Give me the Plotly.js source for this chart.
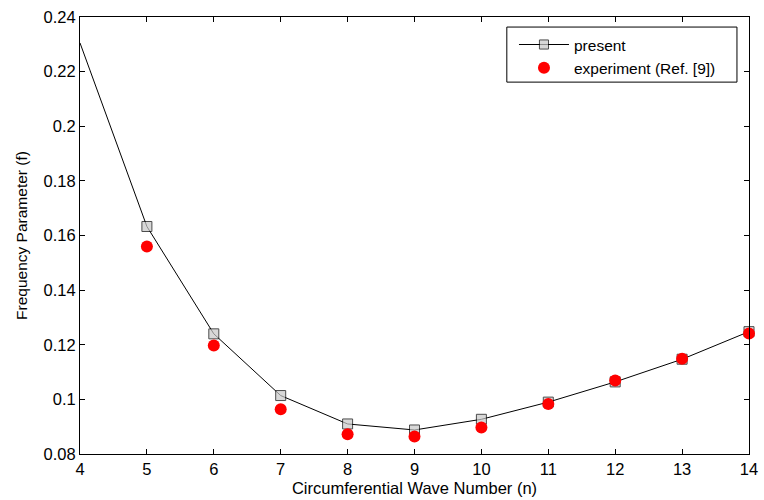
<!DOCTYPE html>
<html>
<head>
<meta charset="utf-8">
<script src="https://cdn.plot.ly/plotly-3.0.1.min.js"></script>
<style>html,body{margin:0;padding:0;background:#fff;}#chart{width:764px;height:500px;}</style>
</head>
<body>
<div id="chart"></div>
<script>
var waveNumbers = [4, 5, 6, 7, 8, 9, 10, 11, 12, 13, 14];
var presentValues = [0.2305, 0.1633, 0.1240, 0.1014, 0.0910, 0.0888, 0.0927, 0.0990, 0.1064, 0.1147, 0.1248];
var expWaveNumbers = [5, 6, 7, 8, 9, 10, 11, 12, 13, 14];
var experimentValues = [0.1560, 0.1197, 0.0964, 0.0872, 0.0864, 0.0897, 0.0983, 0.1069, 0.1149, 0.1241];
var xTicks = [4, 5, 6, 7, 8, 9, 10, 11, 12, 13, 14];
var yTicks = [0.08, 0.1, 0.12, 0.14, 0.16, 0.18, 0.2, 0.22, 0.24];
var yTickText = ['0.08', '0.1', '0.12', '0.14', '0.16', '0.18', '0.2', '0.22', '0.24'];

// first marker (on the left frame) is hidden in the reference
var squareSizes = waveNumbers.map(function (v, i) { return i === 0 ? 0 : 10; });

var FONT = 'Liberation Sans, Arial, Helvetica, sans-serif';

var traces = [
  {
    x: waveNumbers, y: presentValues, name: 'present', type: 'scatter', mode: 'lines+markers',
    line: {color: '#000', width: 1},
    marker: {symbol: 'square', size: squareSizes, color: '#c8c8c8', line: {color: '#000', width: 1}},
    cliponaxis: false
  },
  {
    x: expWaveNumbers, y: experimentValues, name: 'experiment (Ref. [9])', type: 'scatter', mode: 'markers',
    marker: {symbol: 'circle', size: 12, color: '#ff0000'},
    cliponaxis: false
  }
];

var axisCommon = {
  showgrid: false, zeroline: false, showline: true, linecolor: '#000', linewidth: 1,
  mirror: 'ticks', ticks: 'inside', ticklen: 5, tickcolor: '#000', tickwidth: 1,
  tickfont: {family: FONT, size: 16.5, color: '#000'}
};

var layout = {
  width: 764, height: 500,
  margin: {l: 80, r: 15, t: 17, b: 46},
  paper_bgcolor: '#fff', plot_bgcolor: '#fff',
  showlegend: true,
  xaxis: Object.assign({}, axisCommon, {
    range: [4, 14], tickvals: xTicks, ticktext: xTicks.map(String),
    title: {text: 'Circumferential Wave Number (n)', standoff: 5,
      font: {family: FONT, size: 16.5, color: '#000'}}
  }),
  yaxis: Object.assign({}, axisCommon, {
    range: [0.08, 0.24], tickvals: yTicks, ticktext: yTickText,
    title: {text: 'Frequency Parameter (f)', standoff: 12,
      font: {family: FONT, size: 15.5, color: '#000'}}
  }),
  shapes: [
    {type: 'rect', xref: 'paper', yref: 'paper', x0: 0.638, x1: 0.982, y0: 0.851, y1: 0.977,
     line: {color: '#000', width: 1}, fillcolor: '#fff', layer: 'above'}
  ],
  legend: {
    x: 0.6487, y: 0.975, xanchor: 'left', yanchor: 'top',
    bgcolor: 'rgba(0,0,0,0)', borderwidth: 0,
    font: {family: FONT, size: 15.5, color: '#000'},
    itemwidth: 50,
    tracegroupgap: 0
  }
};

Plotly.newPlot('chart', traces, layout, {displayModeBar: false, staticPlot: true});
</script>
</body>
</html>
